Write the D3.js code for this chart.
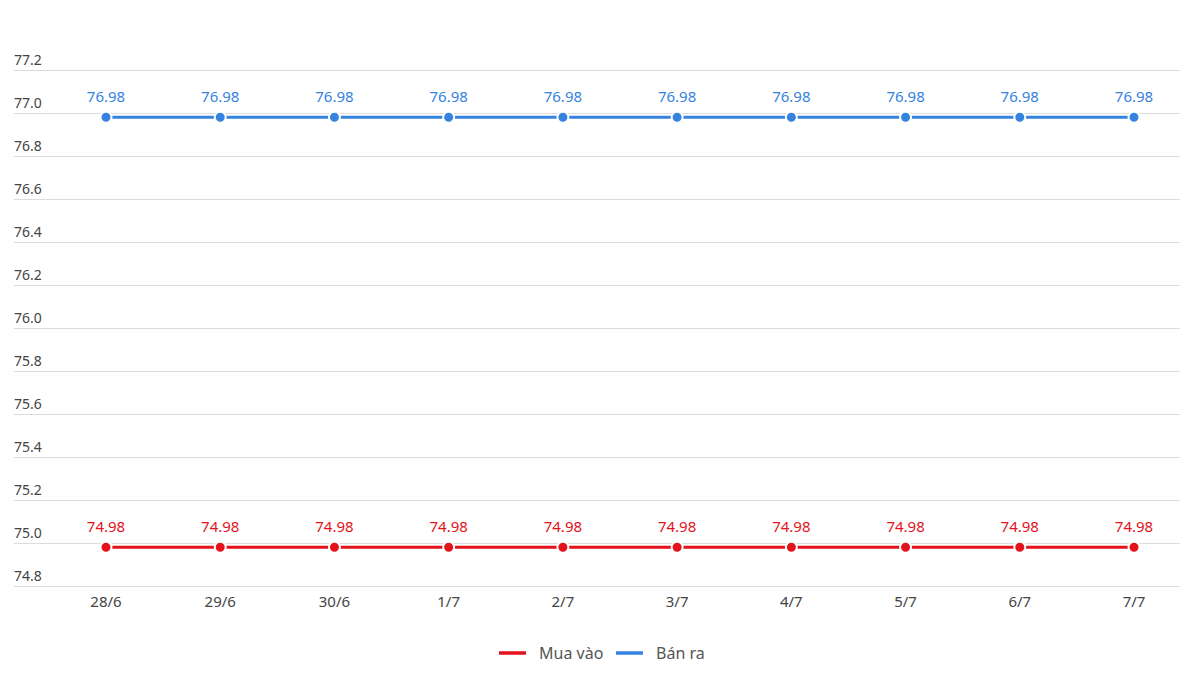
<!DOCTYPE html>
<html>
<head>
<meta charset="utf-8">
<script src="https://cdn.jsdelivr.net/npm/d3@7"></script>
<style>
  body { margin: 0; background: #fff; font-family: "Noto Sans", "Open Sans", sans-serif; }
</style>
</head>
<body>
<div id="chart"></div>
<script>
var width = 1180;
var height = 685;

var days = ["28/6", "29/6", "30/6", "1/7", "2/7", "3/7", "4/7", "5/7", "6/7", "7/7"];
var muaVao = [74.98, 74.98, 74.98, 74.98, 74.98, 74.98, 74.98, 74.98, 74.98, 74.98];
var banRa = [76.98, 76.98, 76.98, 76.98, 76.98, 76.98, 76.98, 76.98, 76.98, 76.98];
var yTicks = [74.8, 75.0, 75.2, 75.4, 75.6, 75.8, 76.0, 76.2, 76.4, 76.6, 76.8, 77.0, 77.2];

var series = [
    {name: "Mua vào", values: muaVao, color: "#e3121b"},
    {name: "Bán ra", values: banRa, color: "#3583e0"}
];

var svg = d3.select("#chart")
    .append("svg")
    .attr("width", width)
    .attr("height", height);

var x = d3.scalePoint()
    .domain(days)
    .range([106, 1134]);

var y = d3.scaleLinear()
    .domain([74.8, 77.2])
    .range([586, 70]);

// grid lines + y labels sitting above each line
var grid = svg.append("g");
grid.selectAll("line")
    .data(yTicks)
    .enter().append("line")
    .attr("x1", 14)
    .attr("x2", width)
    .attr("y1", d => y(d) + 0.5)
    .attr("y2", d => y(d) + 0.5)
    .style("stroke", "#dcdcdc")
    .style("stroke-width", 1);
grid.selectAll("text")
    .data(yTicks)
    .enter().append("text")
    .attr("x", 14)
    .attr("y", d => y(d) - 5)
    .attr("fill", "#444")
    .style("font-size", "14px")
    .text(d => d.toFixed(1));

// x labels
svg.append("g")
    .selectAll("text")
    .data(days)
    .enter().append("text")
    .attr("x", d => x(d))
    .attr("y", 607)
    .attr("text-anchor", "middle")
    .attr("fill", "#444")
    .style("font-size", "15px")
    .text(d => d);

var line = d3.line()
    .x((d, i) => x(days[i]))
    .y(d => y(d));

series.forEach(function (s) {
    var g = svg.append("g");
    g.append("path")
        .datum(s.values)
        .attr("d", line)
        .attr("fill", "none")
        .style("stroke", s.color)
        .style("stroke-width", 3);
    g.selectAll("circle")
        .data(s.values)
        .enter().append("circle")
        .attr("cx", (d, i) => x(days[i]))
        .attr("cy", d => y(d))
        .attr("r", 5.5)
        .attr("fill", s.color)
        .style("stroke", "#fff")
        .style("stroke-width", 2);
    g.selectAll("text")
        .data(s.values)
        .enter().append("text")
        .attr("x", (d, i) => x(days[i]))
        .attr("y", d => y(d) - 15)
        .attr("text-anchor", "middle")
        .attr("fill", s.color)
        .style("font-size", "15px")
        .text(d => d.toFixed(2));
});

// legend
var legendX = [499, 616];
var legend = svg.append("g")
    .selectAll("g")
    .data(series)
    .enter().append("g")
    .attr("transform", (d, i) => "translate(" + legendX[i] + ",653)");
legend.append("line")
    .attr("x1", 0)
    .attr("x2", 27)
    .style("stroke", d => d.color)
    .style("stroke-width", 3.5);
legend.append("text")
    .attr("x", 40)
    .attr("y", 5.5)
    .attr("fill", "#555")
    .style("font-size", "16px")
    .text(d => d.name);
</script>
</body>
</html>
